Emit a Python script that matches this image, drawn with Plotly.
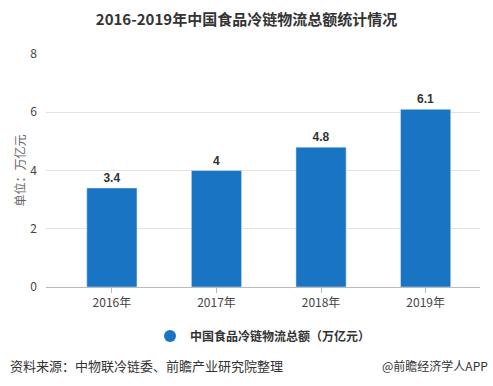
import plotly.graph_objects as go

categories = ["2016年", "2017年", "2018年", "2019年"]
values = [3.4, 4, 4.8, 6.1]
value_labels = ["3.4", "4", "4.8", "6.1"]
series_name = "中国食品冷链物流总额（万亿元）"
y_ticks = [0, 2, 4, 6, 8]

BAR = "#1a74c4"
FONT = "Noto Sans CJK SC, Noto Sans, sans-serif"

fig = go.Figure()
fig.add_trace(go.Bar(
    x=categories, y=values, marker_color=BAR, width=0.48,
    text=value_labels, textposition="outside",
    textfont=dict(family="Liberation Sans, Arial", size=12, color="#333"),
    texttemplate="<b>%{text}</b>", cliponaxis=False,
    showlegend=False, hoverinfo="skip"
))
fig.add_trace(go.Scatter(
    x=[None], y=[None], mode="markers", name="<b>" + series_name + "</b>",
    marker=dict(symbol="circle", size=13, color=BAR), showlegend=True
))

fig.update_layout(
    width=493, height=386,
    margin=dict(l=46, r=13, t=54, b=99, autoexpand=False),
    paper_bgcolor="white", plot_bgcolor="white",
    font=dict(family=FONT, size=12, color="#444"),
    title=dict(text="<b>2016-2019年中国食品冷链物流总额统计情况</b>",
               x=0.5, xanchor="center", y=0.948, yanchor="middle",
               font=dict(family=FONT, size=15, color="#333")),
    showlegend=True,
    legend=dict(orientation="h", x=0.5, xanchor="center", y=-49/233, yanchor="middle",
                font=dict(family=FONT, size=12, color="#333"), itemsizing="constant"),
    bargap=0.5,
)
fig.update_xaxes(
    type="category", range=[-0.63, 3.52], showgrid=False, automargin=False,
    showline=True, linecolor="#bbb", linewidth=1,
    ticks="outside", ticklen=5, tickcolor="#bbb",
    tickfont=dict(size=12, color="#444")
)
fig.update_yaxes(
    range=[0, 8], tickvals=y_ticks, showgrid=True, gridcolor="#e3e3e3", automargin=False,
    zeroline=False, showline=False, ticks="", ticklabelstandoff=8,
    tickfont=dict(size=12, color="#444"),
    title=dict(text="单位：万亿元", font=dict(size=12, color="#666"), standoff=2)
)
fig.add_annotation(text="资料来源：中物联冷链委、前瞻产业研究院整理", xref="paper", yref="paper",
                   x=-38/434, xanchor="left", y=-78/233, yanchor="middle", showarrow=False,
                   font=dict(family=FONT, size=13, color="#333"))
fig.add_annotation(text="@前瞻经济学人APP", xref="paper", yref="paper",
                   x=1 + 10/434, xanchor="right", y=-78/233, yanchor="middle", showarrow=False,
                   font=dict(family=FONT, size=12, color="#333"))

fig.write_html("out.html", config={"displayModeBar": False},
               post_script="document.body.style.margin='0';document.body.style.overflow='hidden';")
